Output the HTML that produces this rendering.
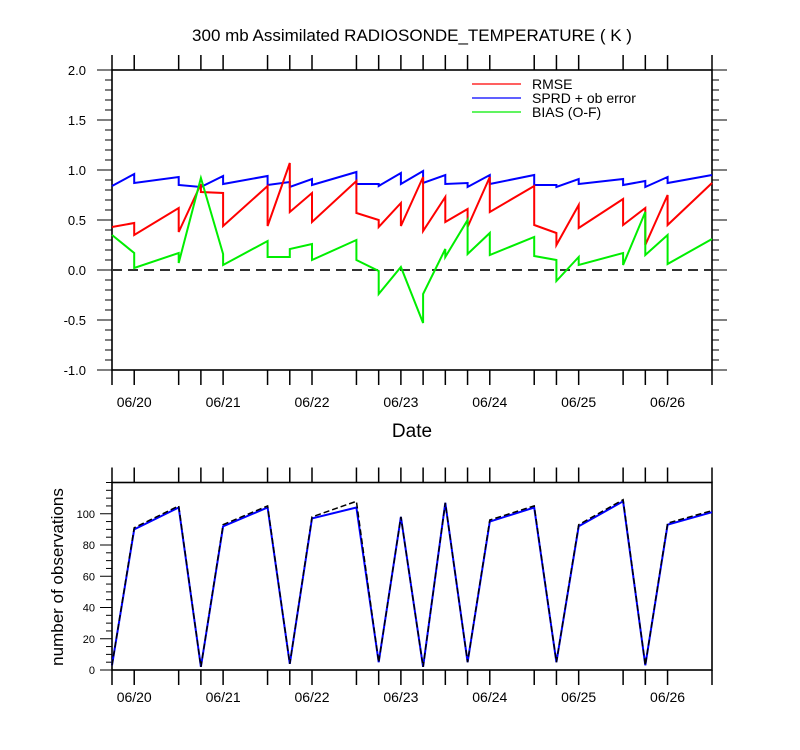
<!DOCTYPE html>
<html><head><meta charset="utf-8">
<style>
html,body{margin:0;padding:0;background:#fff;}
svg{display:block;font-family:"Liberation Sans",sans-serif;}
</style></head>
<body>
<svg id="chart" width="800" height="750" xmlns="http://www.w3.org/2000/svg"></svg>
<script>
// time index in 6-hour steps from 06/19 18Z
const times = [0,1,3,4,5,7,8,9,11,12,13,14,15,16,17,19,20,21,23,24,25,27];
const rmseIn  = [0.43,0.47,0.62,0.86,0.77,0.84,1.07,0.77,0.89,0.50,0.67,0.93,0.73,0.61,0.93,0.84,0.37,0.65,0.71,0.62,0.75,0.87];
const rmseOut = [0.43,0.35,0.38,0.78,0.44,0.44,0.58,0.48,0.57,0.43,0.44,0.39,0.48,0.43,0.58,0.45,0.25,0.42,0.45,0.25,0.45,0.87];
const sprdIn  = [0.84,0.96,0.93,0.83,0.94,0.94,0.88,0.91,0.98,0.86,0.97,0.99,0.95,0.87,0.95,0.95,0.85,0.91,0.91,0.89,0.93,0.95];
const sprdOut = [0.84,0.87,0.85,0.83,0.86,0.85,0.83,0.85,0.86,0.84,0.86,0.87,0.86,0.83,0.86,0.85,0.83,0.86,0.85,0.83,0.87,0.95];
const biasIn  = [0.35,0.17,0.17,0.92,0.16,0.29,0.13,0.26,0.30,-0.01,0.03,-0.53,0.21,0.50,0.37,0.33,0.10,0.13,0.17,0.58,0.35,0.31];
const biasOut = [0.35,0.02,0.07,0.92,0.05,0.13,0.21,0.10,0.10,-0.24,0.03,-0.24,0.13,0.16,0.15,0.14,-0.11,0.05,0.05,0.15,0.06,0.31];
const obsUsed  = [3,90,104,2,92,104,4,97,104,5,98,2,107,5,95,104,5,92,108,3,93,101];
const obsTotal = [3,91,105,2,93,105,4,98,108,5,98,2,107,5,96,105,5,93,109,3,94,102];
const dayLabels = ["06/20","06/21","06/22","06/23","06/24","06/25","06/26"];
const dayIdx = [1,5,9,13,17,21,25];
const topTicks = [-1.0,-0.5,0.0,0.5,1.0,1.5,2.0];
const botTicks = [0,20,40,60,80,100];

const NS="http://www.w3.org/2000/svg";
const svg=document.getElementById('chart');
function mk(tag,attrs,parent){const e=document.createElementNS(NS,tag);for(const k in attrs)e.setAttribute(k,attrs[k]);(parent||svg).appendChild(e);return e;}
const X0=112,X1=712,T1=27;
const xs=t=>X0+(X1-X0)*t/T1;
const yTop=v=>370-(v+1)*100;
const yBot=v=>670-v*(670-482.5)/120;

// title
let t=mk('text',{x:412,y:41,'text-anchor':'middle','font-size':17});
t.textContent="300 mb Assimilated RADIOSONDE_TEMPERATURE ( K )";



function frame(top,bot,name,labOff){
  const r=mk('rect',{x:X0,y:top,width:X1-X0,height:bot-top,fill:'none',stroke:'#000','stroke-width':1.6});
  
  
  times.forEach(tt=>{
    const x=xs(tt);
    const a=mk('line',{x1:x,x2:x,y1:bot,y2:bot+15,stroke:'#000','stroke-width':1.5});
    
    
    const b=mk('line',{x1:x,x2:x,y1:top,y2:top-15,stroke:'#000','stroke-width':1.5});
    
    
  });
  dayIdx.forEach((d,i)=>{
    const l=mk('text',{x:xs(d),y:bot+labOff,'text-anchor':'middle','font-size':14});
    l.textContent=dayLabels[i];
    
    
  });
}

// ---- top panel ----
frame(70,370,'top-plot-area',37);
for(let v=-1.0;v<=2.0001;v+=0.1){
  const y=yTop(v);const maj=Math.abs(Math.round(v*10)%5)===0;
  const L=maj?15:7;
  const a=mk('line',{x1:X0-L,x2:X0,y1:y,y2:y,stroke:'#000','stroke-width':1});
  
  
  const b=mk('line',{x1:X1,x2:X1+L,y1:y,y2:y,stroke:'#000','stroke-width':1});
  
  
}
topTicks.forEach(v=>{
  const l=mk('text',{x:86,y:yTop(v)+5,'text-anchor':'end','font-size':13});
  l.textContent=v.toFixed(1);
  
  
});
const zl=mk('line',{x1:X0,x2:X1,y1:yTop(0),y2:yTop(0),stroke:'#333','stroke-width':2,'stroke-dasharray':'10,6'});



function seriesPath(inA,outA){
  let d='';
  times.forEach((tt,i)=>{
    const x=xs(tt);
    d+=(i?'L':'M')+x.toFixed(1)+','+yTop(inA[i]).toFixed(1);
    d+='L'+x.toFixed(1)+','+yTop(outA[i]).toFixed(1);
  });
  return d;
}
let p=mk('path',{d:seriesPath(sprdIn,sprdOut),fill:'none',stroke:'#0000ff','stroke-width':2});


p=mk('path',{d:seriesPath(rmseIn,rmseOut),fill:'none',stroke:'#ff0000','stroke-width':2});


p=mk('path',{d:seriesPath(biasIn,biasOut),fill:'none',stroke:'#00ee00','stroke-width':2});



// legend
const leg=[["RMSE","#ff0000",84],["SPRD + ob error","#0000ff",98],["BIAS (O-F)","#00ee00",112]];
leg.forEach(([lab,col,y])=>{
  const a=mk('line',{x1:472,x2:521,y1:y,y2:y,stroke:col,'stroke-width':1.3});
  
  
  const tx=mk('text',{x:532,y:y+5,'font-size':14});
  tx.textContent=lab;
  
  
});
t=mk('text',{x:412,y:437,'text-anchor':'middle','font-size':19});
t.textContent="Date";



// ---- bottom panel ----
frame(482.5,670,'bottom-plot-area',32);
for(let v=0;v<=120;v+=5){
  const y=yBot(v);const maj=v%20===0&&v<=100;
  const L=maj?12:6;
  const a=mk('line',{x1:X0-L,x2:X0,y1:y,y2:y,stroke:'#000','stroke-width':1});
  
  
}
botTicks.forEach(v=>{
  const l=mk('text',{x:95,y:yBot(v)+4,'text-anchor':'end','font-size':11});
  l.textContent=v;
  
  
});
t=mk('text',{x:0,y:0,'text-anchor':'middle','font-size':17,transform:'translate(63,577) rotate(-90)'});
t.textContent="number of observations";


function obsPath(arr){return times.map((tt,i)=>(i?'L':'M')+xs(tt).toFixed(1)+','+yBot(arr[i]).toFixed(1)).join('');}
p=mk('path',{d:obsPath(obsUsed),fill:'none',stroke:'#0000ff','stroke-width':2});


p=mk('path',{d:obsPath(obsTotal),fill:'none',stroke:'#000','stroke-width':1.5,'stroke-dasharray':'6,3'});


</script>
</body></html>
